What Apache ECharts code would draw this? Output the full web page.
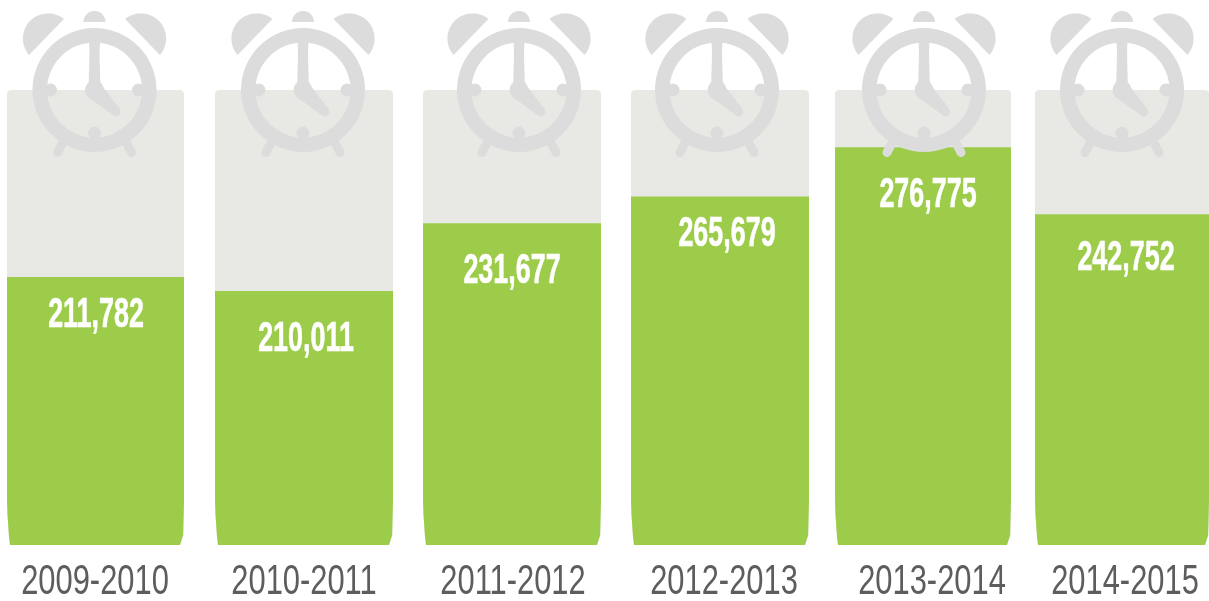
<!DOCTYPE html>
<html>
<head>
<meta charset="utf-8">
<style>html,body{margin:0;padding:0;background:#fff}#c{width:1209px;height:601px}</style>
<script src="https://cdn.jsdelivr.net/npm/echarts@6/dist/echarts.min.js"></script>
</head>
<body>
<div id="c"></div>
<script>
// Data
const categories = ['2009-2010','2010-2011','2011-2012','2012-2013','2013-2014','2014-2015'];
const valueLabels = ['211,782','210,011','231,677','265,679','276,775','242,752'];
// Drawn fill level of each bar, percent of its full grey track (not proportional to the printed figures)
const fillLevels = [58.9, 55.8, 70.7, 76.6, 87.4, 72.7];
const trackLevel = [100, 100, 100, 100, 100, 100];

// Layout nudges: the source spaces its bars by hand
const barShift = [-5.25, 1.75, 8.25, 14.75, 16.25, 13.75];
const barWidth = [177, 178, 178, 178, 176, 174];
const clockShift = [-6.25, 0.75, 15.25, 11.75, 17.25, 13.75];
const valueShift = [-4.75, 3.75, 8.25, 21.75, 21.25, 17.75];
const valueGap = [38, 48, 48, 38, 48, 44];
const axisShift = [-5.75, 1.75, 9.25, 18.75, 25.25, 16.75];

const GREEN = '#9dcc4b', TRACK = '#e8e9e5', CLOCK = '#dcdcdc', AXIS_TEXT = '#5d5d5d';

function arcPoints(cx, cy, r, a0, a1) {
  const pts = [];
  for (let i = 0; i <= 30; i++) {
    const a = a0 + (a1 - a0) * i / 30;
    pts.push([cx + r * Math.cos(a), cy + r * Math.sin(a)]);
  }
  return pts;
}

function clock(cx, cy) {
  const fill = { fill: CLOCK };
  const line = { stroke: CLOCK, lineCap: 'round', fill: null };
  const earR = 25.1, dx = 46.5, dy = 51.5;
  const a0 = Math.atan2(16.5, -19), a1 = Math.atan2(-19.5, 16) + 2 * Math.PI;
  const left = arcPoints(cx - dx, cy - dy, earR, a0, a1);
  const right = left.map(p => [2 * cx - p[0], p[1]]);
  return [
    { type: 'polygon', shape: { points: left }, style: fill },
    { type: 'polygon', shape: { points: right }, style: fill },
    { type: 'sector', shape: { cx: cx, cy: cy - 68, r0: 0, r: 11, startAngle: Math.PI, endAngle: 2 * Math.PI }, style: fill },
    { type: 'ring', shape: { cx: cx, cy: cy, r: 62, r0: 47.5 }, style: fill },
    { type: 'line', shape: { x1: cx - 32, y1: cy + 53, x2: cx - 37, y2: cy + 62.5 }, style: Object.assign({ lineWidth: 9 }, line) },
    { type: 'line', shape: { x1: cx + 32, y1: cy + 53, x2: cx + 37, y2: cy + 62.5 }, style: Object.assign({ lineWidth: 9 }, line) },
    { type: 'circle', shape: { cx: cx - 44, cy: cy, r: 6.5 }, style: fill },
    { type: 'circle', shape: { cx: cx + 44, cy: cy, r: 6.5 }, style: fill },
    { type: 'circle', shape: { cx: cx, cy: cy + 43, r: 6.5 }, style: fill },
    { type: 'polygon', shape: { points: [[cx - 5.5, cy - 50], [cx + 5.5, cy - 50], [cx + 5, cy - 36], [cx + 6, cy], [cx - 6, cy], [cx - 5, cy - 36]] }, style: fill },
    { type: 'polygon', shape: { points: [[cx + 5.5, cy - 7], [cx + 25, cy + 18.5], [cx + 18.5, cy + 25], [cx - 7, cy + 6.5]] }, style: fill },
    { type: 'circle', shape: { cx: cx + 21.7, cy: cy + 21.7, r: 4.5 }, style: fill },
    { type: 'circle', shape: { cx: cx, cy: cy, r: 9.5 }, style: fill }
  ];
}

function renderBar(params, api) {
  const i = api.value(0);
  const base = api.coord([i, 0]);
  const trackTop = api.coord([i, api.value(2)])[1];
  const fillTop = api.coord([i, api.value(1)])[1];
  const cx = base[0] + barShift[i];
  const w = barWidth[i], l = cx - w / 2, r = cx + w / 2, b = base[1];

  // Tapered foot, rounded top corners
  const barShape = function (top, rounded) {
    const pts = [];
    if (rounded) {
      pts.push(...arcPoints(l + 4, top + 4, 4, Math.PI, 1.5 * Math.PI));
      pts.push(...arcPoints(r - 4, top + 4, 4, 1.5 * Math.PI, 2 * Math.PI));
    } else {
      pts.push([l, top], [r, top]);
    }
    pts.push([r, b - 45], [r - 0.8, b - 10], [r - 4, b]);
    pts.push([l + 3, b], [l + 2, b - 8], [l + 0.5, b - 30], [l, b - 45]);
    return pts;
  };

  const children = [
    { type: 'polygon', shape: { points: barShape(trackTop, true) }, style: { fill: TRACK } },
    { type: 'polygon', shape: { points: barShape(fillTop, false) }, style: { fill: GREEN } }
  ].concat(clock(base[0] + clockShift[i], trackTop));

  children.push({
    type: 'text', x: base[0] + valueShift[i], y: fillTop + valueGap[i], scaleX: 0.625, scaleY: 1,
    style: { x: 0, y: 0, text: valueLabels[i], fill: '#fff', font: 'bold 43px "Liberation Sans"', textAlign: 'center', textVerticalAlign: 'middle', stroke: '#fff', lineWidth: 0.6 }
  });
  children.push({
    type: 'text', x: base[0] + axisShift[i], y: 582, scaleX: 0.735, scaleY: 1,
    style: { x: 0, y: 0, text: categories[i], fill: AXIS_TEXT, font: '42px "Liberation Sans"', textAlign: 'center', textVerticalAlign: 'middle' }
  });
  return { type: 'group', children: children };
}

const chart = echarts.init(document.getElementById('c'), null, { renderer: 'canvas' });
chart.setOption({
  animation: false,
  backgroundColor: '#fff',
  grid: { left: 0, right: 0, top: 90, height: 455, containLabel: false },
  xAxis: { type: 'category', data: categories, show: false },
  yAxis: { type: 'value', min: 0, max: 100, show: false },
  series: [{
    type: 'custom',
    clip: false,
    encode: { x: 0, y: 1 },
    renderItem: renderBar,
    data: categories.map((c, i) => [i, fillLevels[i], trackLevel[i]])
  }]
});
</script>
</body>
</html>
